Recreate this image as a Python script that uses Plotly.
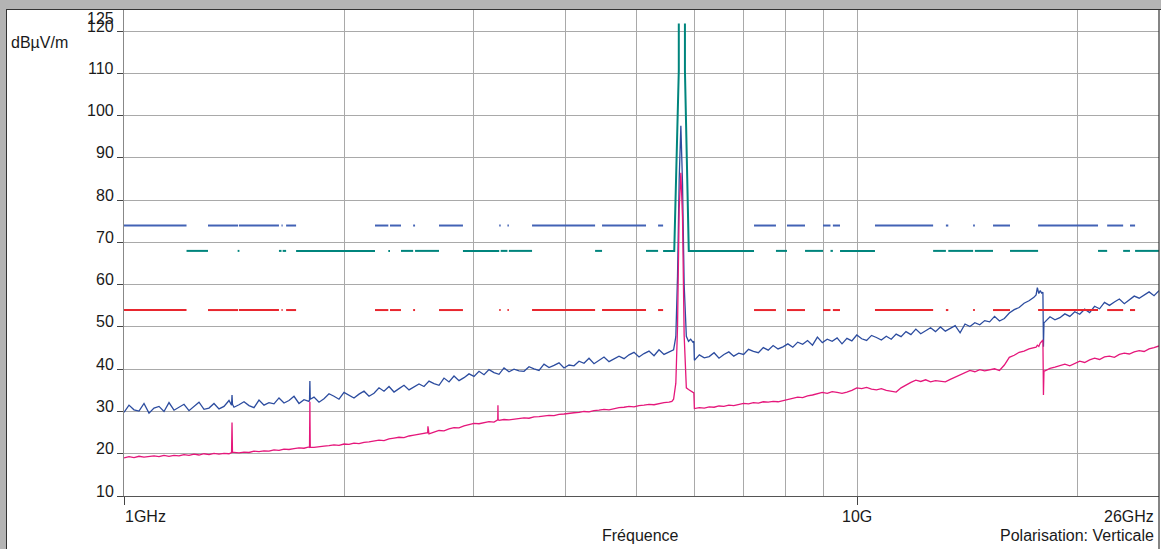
import numpy as np
import plotly.graph_objects as go

# ---------------- data ----------------
# receiver sweep bands (GHz): first / last sample frequency of each band
band1_sweep = (1.0, 5.54)
band2_sweep = (6.0, 17.43)
band3_sweep = (18.05, 25.82)

# Peak detector trace (blue), dBµV/m
peak_band1 = [
    29.8, 31.5, 30.4, 30.1, 31.9, 29.6, 30.8, 31.2, 30.0, 32.1,
    30.3, 30.9, 31.7, 30.2, 31.1, 32.2, 30.5, 30.8, 31.9, 30.6,
    31.2, 32.6, 31.0, 31.6, 32.3, 31.4, 30.9, 32.7, 31.5, 32.1,
    31.8, 33.2, 32.0, 32.6, 33.6, 31.9, 32.8, 32.4, 33.4, 32.2,
    33.0, 34.2, 33.6, 32.9, 34.5, 33.8, 33.2, 34.1, 34.8, 33.6,
    34.3, 35.6, 34.8, 35.9, 34.6, 35.4, 36.2, 35.1, 35.8, 36.5,
    35.9, 37.2, 36.6, 36.2, 37.9, 37.0, 38.4, 37.3, 38.0, 38.9,
    38.3, 39.5, 38.7, 39.9, 39.2, 38.8, 40.3, 39.4, 40.0, 39.6,
    39.5, 40.6, 40.1, 39.7, 41.2, 40.4, 40.9, 41.5, 40.3, 41.0,
    40.8, 41.9, 41.4, 42.6, 41.3, 42.2, 42.9, 41.8, 42.5, 43.1,
    42.5, 43.4, 44.0, 42.9, 43.7, 44.3, 43.2, 44.6, 43.5, 44.1,
]
peak_spike_f = [1.402, 1.404, 1.406, 1.791, 1.793, 1.795]
peak_spike_db = [31.5, 33.9, 31.7, 32.7, 37.2, 32.9]
peak_carrier_f = [5.59, 5.62, 5.66, 5.69, 5.72, 5.75, 5.78, 5.81, 5.85, 5.89, 5.93, 5.97, 5.99]
peak_carrier_db = [44.3, 44.6, 47.7, 62.0, 85.0, 97.6, 84.0, 60.0, 47.8, 46.6, 47.1, 46.4, 46.6]
peak_band2 = [
    42.1, 43.4, 42.7, 43.0, 43.9, 42.6, 43.5, 44.1, 43.1, 43.8,
    43.5, 44.7, 44.2, 43.9, 45.1, 44.5, 45.6, 44.8, 45.3, 46.0,
    45.2, 46.4, 45.9, 46.8, 45.7, 47.6, 46.3, 47.1, 46.6, 47.4,
    46.0, 47.3, 46.7, 48.1, 47.2, 46.8, 48.0, 47.5, 46.9, 47.8,
    47.1, 48.3, 47.7, 48.9, 48.2, 49.5, 48.4, 49.1, 49.8, 48.9,
    50.0, 49.0, 49.6, 50.3, 48.6, 50.7, 50.1, 51.0, 50.5, 51.5,
    51.2, 52.5, 51.4, 52.0, 53.3, 54.1, 54.6, 55.6, 56.2, 57.0,
]
peak_edge_f = [17.55, 17.62, 17.70, 17.78, 17.86, 17.93, 17.96, 17.99]
peak_edge_db = [57.6, 59.3, 57.9, 58.6, 58.0, 58.2, 45.3, 51.0]
peak_band3 = [
    51.2, 52.4, 51.7, 52.2, 53.1, 52.5, 53.6, 53.0, 54.2, 53.4,
    54.9, 54.3, 55.8, 55.1, 55.9, 56.6, 55.5, 56.4, 57.3, 56.8,
    57.6, 58.3, 57.4, 58.6,
]

# Average detector trace (pink), dBµV/m
avg_band1 = [
    19.0, 19.3, 19.1, 19.4, 19.2, 19.3, 19.5, 19.3, 19.6, 19.4,
    19.6, 19.5, 19.8, 19.6, 19.9, 19.7, 20.0, 19.8, 20.1, 19.9,
    20.1, 20.0, 20.3, 20.2, 20.4, 20.3, 20.6, 20.5, 20.7, 20.6,
    20.9, 20.8, 21.1, 21.0, 21.2, 21.4, 21.3, 21.6, 21.5, 21.7,
    21.8, 21.9, 22.1, 22.0, 22.3, 22.2, 22.5, 22.4, 22.7, 22.8,
    23.0, 23.2, 23.1, 23.5, 23.7, 23.9, 23.8, 24.2, 24.4, 24.6,
    24.8, 24.7, 25.1, 25.5, 25.4, 25.9, 26.2, 26.1, 26.6, 26.9,
    27.2, 27.1, 27.4, 27.6, 27.5, 27.9, 28.1, 28.0, 28.2, 28.4,
    28.5, 28.4, 28.7, 28.8, 28.9, 29.1, 29.0, 29.3, 29.4, 29.6,
    29.7, 29.8, 30.0, 29.9, 30.2, 30.3, 30.5, 30.4, 30.7, 30.9,
    31.0, 31.2, 31.1, 31.4, 31.5, 31.7, 31.6, 31.9, 32.1, 32.2,
]
avg_spike_f = [1.402, 1.404, 1.406, 1.791, 1.793, 1.795,
               2.596, 2.598, 2.600, 3.235, 3.237, 3.239]
avg_spike_db = [20.3, 27.4, 20.3, 21.4, 32.3, 21.5,
                25.0, 26.5, 25.1, 28.0, 31.5, 28.1]
avg_carrier_f = [5.59, 5.62, 5.66, 5.69, 5.72, 5.75, 5.78, 5.81, 5.85, 5.89, 5.93, 5.97, 5.99]
avg_carrier_db = [32.4, 32.9, 36.7, 50.0, 78.0, 86.5, 76.0, 48.0, 35.6, 35.2, 34.9, 34.5, 34.4]
avg_band2 = [
    30.7, 30.9, 30.8, 31.1, 31.0, 31.3, 31.2, 31.5, 31.4, 31.7,
    31.9, 31.8, 32.1, 32.0, 32.3, 32.2, 32.4, 32.3, 32.6, 32.9,
    33.2, 33.4, 33.3, 33.7, 33.9, 34.2, 34.5, 34.3, 34.7, 34.5,
    34.3, 34.6, 35.0, 35.6, 35.4, 35.7, 35.3, 35.1, 35.4, 35.0,
    34.8, 34.6, 35.6, 36.3, 36.9, 37.4, 37.1, 37.5, 37.0, 37.3,
    37.2, 37.0, 37.6, 38.1, 38.6, 39.2, 39.7, 39.4, 39.9, 39.6,
    39.8, 40.1, 39.7, 41.0, 42.8, 43.3, 44.0, 44.3, 44.8, 45.0,
]
avg_edge_f = [17.55, 17.62, 17.70, 17.78, 17.86, 17.93, 17.96, 17.99]
avg_edge_db = [45.2, 45.7, 45.4, 46.2, 46.5, 46.9, 33.9, 39.6]
avg_band3 = [
    39.6, 40.2, 40.5, 40.9, 41.2, 40.8, 41.4, 41.9, 41.6, 42.2,
    42.6, 42.3, 42.9, 43.1, 42.8, 43.5, 43.8, 43.6, 44.1, 44.4,
    44.2, 44.8, 45.1, 45.5,
]

# Limit lines (dBµV/m) and the frequency stretches where each one is drawn (GHz)
limit_peak_level = 74
limit_avg_level = 54
limit_mid_level = 68
limit_pa_spans = [
    (1.0, 1.217), (1.302, 1.431), (1.435, 1.627), (1.640, 1.646), (1.664, 1.717),
    (2.200, 2.294), (2.306, 2.387), (2.480, 2.495), (2.690, 2.900), (3.250, 3.265),
    (3.335, 3.350), (3.603, 4.392), (4.489, 5.154), (5.353, 5.438), (7.236, 7.752),
    (8.025, 8.493), (8.987, 9.200), (9.270, 9.480), (10.58, 12.70), (13.22, 13.32),
    (14.40, 14.48), (15.33, 16.17), (17.66, 21.32), (21.94, 23.07), (23.57, 23.95),
]
limit_mid_spans = [
    (1.217, 1.302), (1.429, 1.437), (1.627, 1.640), (1.646, 1.664), (1.717, 2.200),
    (2.294, 2.306), (2.387, 2.480), (2.495, 2.690), (2.900, 3.250), (3.265, 3.335),
    (3.350, 3.603), (4.392, 4.489), (5.154, 5.353), (7.752, 8.025), (8.493, 8.987),
    (9.200, 9.270), (9.480, 10.58), (12.70, 13.22), (13.32, 14.40), (14.48, 15.33),
    (16.17, 17.66), (21.32, 21.94), (23.07, 23.57), (23.95, 25.82),
]
limit_notch_f = [5.438, 5.632, 5.713, 5.713, None, 5.824, 5.824, 5.895, 7.236]
limit_notch_db = [68, 68, 110.7, 121.8, None, 121.8, 110.7, 68, 68]

y_ticks = [10, 20, 30, 40, 50, 60, 70, 80, 90, 100, 110, 120]
y_top_label = "125"
x_grid = [2, 3, 4, 5, 6, 7, 8, 9, 20]
x_ticks = [1, 10]
F_MAX = 25.82


# ---------------- helpers ----------------
def assemble(parts):
    f = np.concatenate([np.asarray(p[0], float) for p in parts])
    v = np.concatenate([np.asarray(p[1], float) for p in parts])
    order = np.argsort(f, kind="stable")
    return f[order], v[order]


def sweep(band, values):
    return np.geomspace(band[0], band[1], len(values)), values


def spans_xy(spans, level):
    xs, ys = [], []
    for a, b in spans:
        xs += [a, b, None]
        ys += [level, level, None]
    return xs, ys


peak_f, peak_v = assemble([
    sweep(band1_sweep, peak_band1), (peak_spike_f, peak_spike_db),
    (peak_carrier_f, peak_carrier_db), sweep(band2_sweep, peak_band2),
    (peak_edge_f, peak_edge_db), sweep(band3_sweep, peak_band3),
])
avg_f, avg_v = assemble([
    sweep(band1_sweep, avg_band1), (avg_spike_f, avg_spike_db),
    (avg_carrier_f, avg_carrier_db), sweep(band2_sweep, avg_band2),
    (avg_edge_f, avg_edge_db), sweep(band3_sweep, avg_band3),
])

# ---------------- figure ----------------
FONT = "Arial, 'Liberation Sans', sans-serif"
FS = 16
TXT = "#1a1a1a"
GRID = "#a9a9a9"
GRAY = "#b4b4b4"

fig = go.Figure()
fig.add_trace(go.Scatter(x=peak_f, y=peak_v, mode="lines",
                         line=dict(color="#2c4c9f", width=1.3), hoverinfo="skip"))
fig.add_trace(go.Scatter(x=avg_f, y=avg_v, mode="lines",
                         line=dict(color="#e5177b", width=1.3), hoverinfo="skip"))

xs, ys = spans_xy(limit_pa_spans, limit_peak_level)
fig.add_trace(go.Scatter(x=xs, y=ys, mode="lines", line=dict(color="#4262b5", width=2),
                         hoverinfo="skip"))
xs, ys = spans_xy(limit_mid_spans, limit_mid_level)
fig.add_trace(go.Scatter(x=xs, y=ys, mode="lines", line=dict(color="#00857d", width=2),
                         hoverinfo="skip"))
fig.add_trace(go.Scatter(x=limit_notch_f, y=limit_notch_db, mode="lines",
                         line=dict(color="#00857d", width=2), hoverinfo="skip"))
xs, ys = spans_xy(limit_pa_spans, limit_avg_level)
fig.add_trace(go.Scatter(x=xs, y=ys, mode="lines", line=dict(color="#e8262e", width=2),
                         hoverinfo="skip"))

# page geometry: white panel starts at page (7, 10); plot area is page x 124..1159, y 10..496
OFF_X, OFF_Y = 7, 10
W, H = 1161 - OFF_X, 549 - OFF_Y
PL, PR, PT, PB = 124, 1159, 10, 496
pw, ph = PR - PL, PB - PT


def px_x(p):          # page pixel -> paper x
    return (p - PL) / pw


def px_y(p):          # page pixel -> paper y
    return 1 - (p - PT) / ph


fig.update_layout(
    width=W, height=H, autosize=False,
    margin=dict(l=PL - OFF_X, r=(OFF_X + W) - PR, t=PT - OFF_Y, b=(OFF_Y + H) - PB, pad=0),
    paper_bgcolor="white", plot_bgcolor="white",
    showlegend=False,
    font=dict(family=FONT, size=FS, color=TXT),
    xaxis=dict(
        type="log", range=[0, np.log10(F_MAX)],
        tickvals=x_ticks, showticklabels=False,
        ticks="outside", ticklen=8, tickcolor="#444", tickwidth=1,
        showgrid=True, gridcolor=GRID, gridwidth=1,
        minor=dict(tickvals=x_grid, showgrid=True, gridcolor=GRID, gridwidth=1, ticks=""),
        showline=True, linecolor="#555", linewidth=1, zeroline=False,
    ),
    yaxis=dict(
        range=[10, 125], tickvals=y_ticks, showticklabels=False,
        ticks="outside", ticklen=6, tickcolor="#444", tickwidth=1,
        showgrid=True, gridcolor=GRID, gridwidth=1,
        showline=True, linecolor="#888", linewidth=1, zeroline=False,
    ),
)

shapes = [
    dict(type="line", xref="paper", yref="paper", x0=1.0, x1=1.0, y0=-0.3, y1=1.0,
         line=dict(color="#333", width=1.2), layer="above"),
]
fig.update_layout(shapes=shapes)

ann_common = dict(showarrow=False, borderpad=0, borderwidth=0,
                  font=dict(family=FONT, size=FS, color=TXT))
annotations = [
    dict(text=str(v), xref="paper", yref="y", x=px_x(113.5), y=v, yshift=5,
         xanchor="right", yanchor="middle", **ann_common)
    for v in y_ticks
]
annotations += [
    dict(text=y_top_label, xref="paper", yref="paper", x=px_x(113.5), y=px_y(18.0),
         xanchor="right", yanchor="middle", **ann_common),
    dict(text="dBµV/m", xref="paper", yref="paper", x=px_x(11), y=px_y(42.0),
         xanchor="left", yanchor="middle", **ann_common),
    dict(text="1GHz", xref="paper", yref="paper", x=px_x(124.5), y=px_y(516),
         xanchor="left", yanchor="middle", **ann_common),
    dict(text="10G", xref="x", yref="paper", x=1, y=px_y(516),
         xanchor="center", yanchor="middle", **ann_common),
    dict(text="26GHz", xref="paper", yref="paper", x=px_x(1154), y=px_y(516),
         xanchor="right", yanchor="middle", **ann_common),
    dict(text="Fréquence", xref="paper", yref="paper", x=px_x(640), y=px_y(535),
         xanchor="center", yanchor="middle", **ann_common),
    dict(text="Polarisation: Verticale", xref="paper", yref="paper", x=px_x(1154),
         y=px_y(535), xanchor="right", yanchor="middle", **ann_common),
]
fig.update_layout(annotations=annotations)

# grey window frame around the white chart panel, with a dark panel edge
frame_js = (
    "document.body.style.margin='0';"
    "document.body.style.overflow='hidden';"
    f"document.body.style.background='{GRAY}';"
    "var gd=document.getElementById('{plot_id}');"
    f"gd.style.marginLeft='{OFF_X - 1}px';gd.style.marginTop='{OFF_Y - 1}px';"
    "gd.style.borderLeft='1px solid #333';gd.style.borderTop='1px solid #333';"
)
fig.write_html("out.html", config={"displayModeBar": False}, post_script=frame_js)
